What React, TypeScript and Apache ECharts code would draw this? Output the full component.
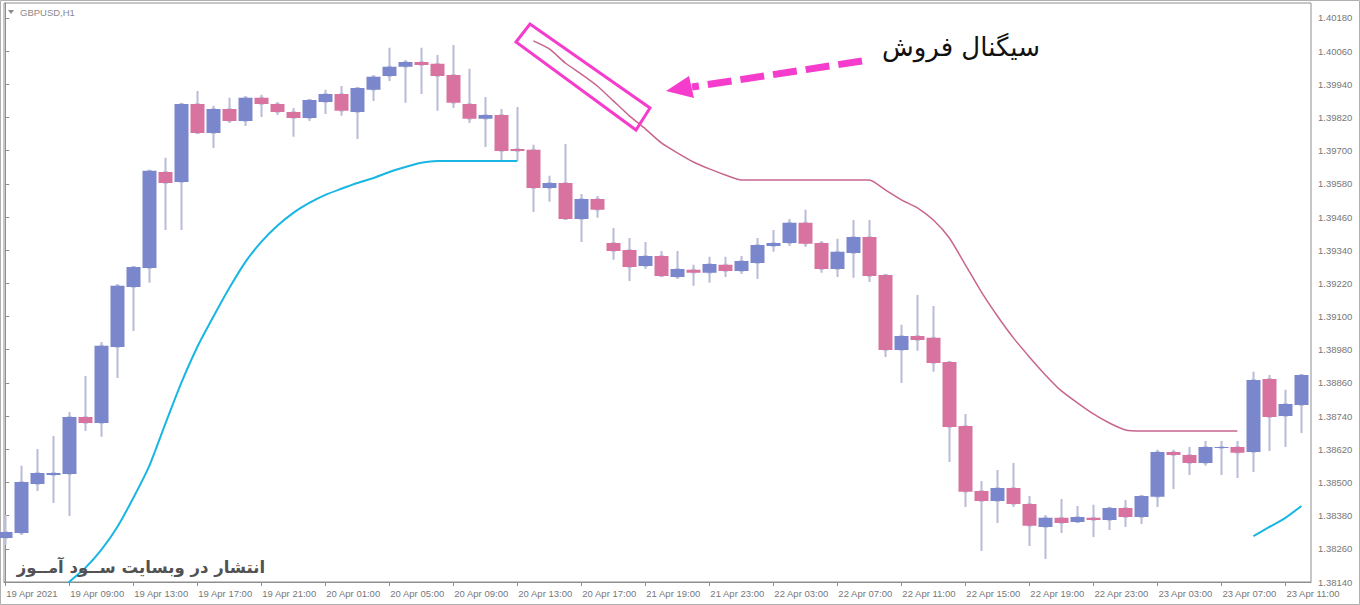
import React, { useEffect, useRef } from "react";
import * as echarts from "echarts";

// ---- data ----
const barTimes = [
  "19 Apr 05:00","19 Apr 06:00","19 Apr 07:00","19 Apr 08:00","19 Apr 09:00","19 Apr 10:00","19 Apr 11:00","19 Apr 12:00",
  "19 Apr 13:00","19 Apr 14:00","19 Apr 15:00","19 Apr 16:00","19 Apr 17:00","19 Apr 18:00","19 Apr 19:00","19 Apr 20:00",
  "19 Apr 21:00","19 Apr 22:00","19 Apr 23:00",
  "20 Apr 00:00","20 Apr 01:00","20 Apr 02:00","20 Apr 03:00","20 Apr 04:00","20 Apr 05:00","20 Apr 06:00","20 Apr 07:00",
  "20 Apr 08:00","20 Apr 09:00","20 Apr 10:00","20 Apr 11:00","20 Apr 12:00","20 Apr 13:00","20 Apr 14:00","20 Apr 15:00",
  "20 Apr 16:00","20 Apr 17:00",
  "21 Apr 16:00","21 Apr 17:00","21 Apr 18:00","21 Apr 19:00","21 Apr 20:00","21 Apr 21:00","21 Apr 22:00","21 Apr 23:00",
  "22 Apr 00:00","22 Apr 01:00","22 Apr 02:00","22 Apr 03:00","22 Apr 04:00","22 Apr 05:00","22 Apr 06:00","22 Apr 07:00",
  "22 Apr 08:00","22 Apr 09:00","22 Apr 10:00","22 Apr 11:00","22 Apr 12:00","22 Apr 13:00","22 Apr 14:00","22 Apr 15:00",
  "22 Apr 16:00","22 Apr 17:00","22 Apr 18:00","22 Apr 19:00","22 Apr 20:00","22 Apr 21:00","22 Apr 22:00","22 Apr 23:00",
  "23 Apr 00:00","23 Apr 01:00","23 Apr 02:00","23 Apr 03:00","23 Apr 04:00","23 Apr 05:00","23 Apr 06:00","23 Apr 07:00",
  "23 Apr 08:00","23 Apr 09:00","23 Apr 10:00","23 Apr 11:00","23 Apr 12:00"
];

const openP = [
  1.38299,1.38317,1.38494,1.38527,1.38531,1.38737,1.38715,1.38990,1.39207,1.39276,
  1.39623,1.39587,1.39869,1.39764,1.39851,1.39807,1.39891,1.39869,1.39840,1.39818,
  1.39876,1.39905,1.39840,1.39920,1.39970,1.40003,1.40021,1.40014,1.39974,1.39869,
  1.39815,1.39829,1.39706,1.39703,1.39565,1.39583,1.39453,1.39525,1.39366,1.39341,
  1.39283,1.39319,1.39243,1.39269,1.39258,1.39287,1.39265,1.39294,1.39355,1.39366,
  1.39439,1.39366,1.39272,1.39330,1.39388,1.39250,1.38979,1.39030,1.39023,1.38936,
  1.38704,1.38469,1.38433,1.38480,1.38422,1.38339,1.38372,1.38357,1.38372,1.38364,
  1.38408,1.38375,1.38448,1.38610,1.38599,1.38570,1.38625,1.38628,1.38610,1.38874,
  1.38740,1.38780
];
const closeP = [
  1.38321,1.38502,1.38534,1.38534,1.38737,1.38715,1.38994,1.39211,1.39279,1.39627,
  1.39583,1.39869,1.39764,1.39851,1.39807,1.39891,1.39869,1.39840,1.39818,1.39883,
  1.39905,1.39844,1.39927,1.39967,1.40003,1.40021,1.40010,1.39970,1.39873,1.39815,
  1.39829,1.39699,1.39699,1.39565,1.39583,1.39453,1.39525,1.39486,1.39337,1.39279,
  1.39319,1.39247,1.39272,1.39258,1.39290,1.39265,1.39301,1.39359,1.39366,1.39439,
  1.39363,1.39272,1.39334,1.39388,1.39247,1.38979,1.39030,1.39015,1.38932,1.38701,
  1.38466,1.38433,1.38480,1.38422,1.38343,1.38372,1.38353,1.38375,1.38364,1.38408,
  1.38375,1.38451,1.38610,1.38599,1.38570,1.38628,1.38628,1.38607,1.38871,1.38737,
  1.38784,1.38889
];
const highP = [
  1.38382,1.38560,1.38621,1.38668,1.38755,1.38885,1.39008,1.39218,1.39283,1.39630,
  1.39674,1.39873,1.39916,1.39862,1.39891,1.39898,1.39902,1.39876,1.39854,1.39887,
  1.39920,1.39934,1.39930,1.39974,1.40072,1.40028,1.40072,1.40046,1.40082,1.39996,
  1.39894,1.39851,1.39858,1.39721,1.39609,1.39724,1.39543,1.39536,1.39420,1.39384,
  1.39370,1.39337,1.39337,1.39287,1.39316,1.39316,1.39319,1.39384,1.39413,1.39453,
  1.39486,1.39373,1.39381,1.39449,1.39449,1.39250,1.39070,1.39178,1.39138,1.38936,
  1.38748,1.38505,1.38545,1.38570,1.38451,1.38382,1.38440,1.38415,1.38419,1.38412,
  1.38437,1.38455,1.38618,1.38618,1.38628,1.38650,1.38650,1.38650,1.38900,1.38889,
  1.38835,1.38889
];
const lowP = [
  1.38274,1.38310,1.38469,1.38426,1.38379,1.38686,1.38665,1.38878,1.39048,1.39222,
  1.39413,1.39413,1.39760,1.39710,1.39800,1.39789,1.39822,1.39829,1.39750,1.39807,
  1.39833,1.39826,1.39742,1.39880,1.39952,1.39873,1.39905,1.39844,1.39854,1.39800,
  1.39713,1.39659,1.39663,1.39478,1.39515,1.39449,1.39370,1.39457,1.39305,1.39229,
  1.39272,1.39243,1.39236,1.39211,1.39222,1.39243,1.39254,1.39236,1.39334,1.39355,
  1.39352,1.39258,1.39243,1.39240,1.39225,1.38954,1.38860,1.38976,1.38900,1.38574,
  1.38411,1.38252,1.38353,1.38411,1.38270,1.38223,1.38317,1.38353,1.38303,1.38328,
  1.38339,1.38350,1.38411,1.38476,1.38527,1.38560,1.38527,1.38516,1.38538,1.38614,
  1.38628,1.38679
];

// indicator lines (start bar index + values)
const lowerBandStart = 3;
const lowerBand = [
  1.38082,1.38140,1.38191,1.38256,1.38339,1.38444,1.38560,1.38712,1.38860,1.38990,
  1.39099,1.39203,1.39297,1.39370,1.39428,1.39475,1.39511,1.39540,1.39562,1.39583,
  1.39601,1.39623,1.39641,1.39656,1.39663,1.39663,1.39663,1.39663,1.39663,1.39663
];
const lowerBand2Start = 78;
const lowerBand2 = [1.38306,1.38339,1.38372,1.38415];
const upperBandStart = 33;
const upperBand = [
  1.40097,1.40068,1.40017,1.39977,1.39934,1.39880,1.39826,1.39779,1.39728,1.39692,
  1.39659,1.39634,1.39612,1.39594,1.39594,1.39594,1.39594,1.39594,1.39594,1.39594,
  1.39594,1.39594,1.39558,1.39522,1.39493,1.39449,1.39384,1.39287,1.39189,1.39102,
  1.39023,1.38954,1.38889,1.38831,1.38788,1.38748,1.38715,1.38690,1.38686,1.38686,
  1.38686,1.38686,1.38686,1.38686,1.38686
];

const xTickIndex = [0,4,8,12,16,20,24,28,32,36,40,44,48,52,56,60,64,68,72,76,80];
const xTickLabels = [
  "19 Apr 2021","19 Apr 09:00","19 Apr 13:00","19 Apr 17:00","19 Apr 21:00","20 Apr 01:00",
  "20 Apr 05:00","20 Apr 09:00","20 Apr 13:00","20 Apr 17:00","21 Apr 19:00","21 Apr 23:00",
  "22 Apr 03:00","22 Apr 07:00","22 Apr 11:00","22 Apr 15:00","22 Apr 19:00","22 Apr 23:00",
  "23 Apr 03:00","23 Apr 07:00","23 Apr 11:00"
];
const yTicks = [
  1.40180,1.40060,1.39940,1.39820,1.39700,1.39580,1.39460,1.39340,1.39220,
  1.39100,1.38980,1.38860,1.38740,1.38620,1.38500,1.38380,1.38260,1.38140
];

const symbolTitle = "GBPUSD,H1";
const signalText = "سیگنال فروش";
const watermarkText = "انتشار در وبسایت ســود آمــوز";

// ---- styles ----
const BULL = "#7a87cc";
const BEAR = "#d873a0";
const WICK = "#b8bcd8";
const CYAN = "#19b6e3";
const UPPER = "#c8658e";
const MAGENTA = "#f53ccd";
const FRAME = "#8e8e8e";
const LABEL = "#777777";

function buildOption() {
  const candleData = openP.map((o, i) => [i, o, closeP[i], lowP[i], highP[i]]);
  const lower1 = lowerBand.map((v, k) => [lowerBandStart + k, v]);
  const lower2 = lowerBand2.map((v, k) => [lowerBand2Start + k, v]);
  const upper = upperBand.map((v, k) => [upperBandStart + k, v]);

  return {
    animation: false,
    backgroundColor: "#ffffff",
    grid: {
      left: 4, top: 3, width: 1307, height: 579,
      show: true, borderColor: FRAME, borderWidth: 1, backgroundColor: "transparent",
    },
    xAxis: {
      type: "value",
      min: -0.08,
      max: 81.6,
      axisLine: { show: true, lineStyle: { color: FRAME, width: 1 } },
      axisTick: { show: true, length: 4, lineStyle: { color: FRAME }, customValues: xTickIndex },
      axisLabel: {
        customValues: xTickIndex,
        formatter: (v: number) => {
          const k = xTickIndex.indexOf(Math.round(v));
          return k >= 0 ? xTickLabels[k] : "";
        },
        color: LABEL, fontSize: 9.5, fontFamily: "Liberation Sans",
        align: "left", margin: 6, padding: [0, 0, 0, 1],
      },
      splitLine: { show: false },
    },
    yAxis: {
      type: "value",
      position: "right",
      min: 1.3814,
      max: 1.40234,
      axisLine: { show: true, lineStyle: { color: FRAME, width: 1 } },
      axisTick: { show: true, length: 4, lineStyle: { color: FRAME }, customValues: yTicks },
      axisLabel: {
        customValues: yTicks,
        formatter: (v: number) => v.toFixed(5),
        color: LABEL, fontSize: 9.5, fontFamily: "Liberation Sans", margin: 7,
      },
      splitLine: { show: false },
    },
    series: [
      {
        type: "candlestick", name: "wick", data: candleData, barWidth: 2, silent: true, z: 2,
        itemStyle: { color: WICK, color0: WICK, borderColor: WICK, borderColor0: WICK, borderWidth: 2 },
      },
      {
        type: "candlestick", name: "body", data: candleData, barWidth: 14, silent: true, z: 3,
        itemStyle: { color: BULL, color0: BEAR, borderColor: BULL, borderColor0: BEAR, borderWidth: 0 },
      },
      {
        type: "line", name: "lower", data: lower1, symbol: "none", smooth: 0.2, silent: true, z: 4,
        lineStyle: { color: CYAN, width: 2 },
      },
      {
        type: "line", name: "lower2", data: lower2, symbol: "none", smooth: 0.2, silent: true, z: 4,
        lineStyle: { color: CYAN, width: 2 },
      },
      {
        type: "line", name: "upper", data: upper, symbol: "none", smooth: 0.2, silent: true, z: 4,
        lineStyle: { color: UPPER, width: 1.5 },
      },
    ],
    graphic: [
      { type: "rect", shape: { x: 0.5, y: 0.5, width: 1359, height: 604 }, style: { fill: "none", stroke: "#b0b0b0", lineWidth: 1 }, silent: true },
      { type: "polygon", shape: { points: [[8, 10], [14, 10], [11, 14]] }, style: { fill: "#8a8a8a" }, silent: true },
      { type: "text", x: 20, y: 12, style: { text: symbolTitle, fill: "#8a8a8a", fontSize: 9.5, fontFamily: "Liberation Sans", verticalAlign: "middle" }, silent: true },
      { type: "polygon", shape: { points: [[516, 42], [530, 24], [650, 108], [636, 130]] }, style: { fill: "none", stroke: MAGENTA, lineWidth: 3 }, silent: true, z: 10 },
      { type: "line", shape: { x1: 862, y1: 61, x2: 692, y2: 87 }, style: { stroke: MAGENTA, lineWidth: 7, lineDash: [24, 9] }, silent: true, z: 10 },
      { type: "polygon", shape: { points: [[666, 91], [689, 76], [694, 98]] }, style: { fill: MAGENTA }, silent: true, z: 10 },
      { type: "text", x: 961, y: 47, style: { text: signalText, fill: "#111111", fontSize: 26, fontFamily: "DejaVu Sans", align: "center", verticalAlign: "middle" }, silent: true, z: 10 },
      { type: "text", x: 141, y: 567, style: { text: watermarkText, fill: "#525252", fontSize: 16.5, fontWeight: "bold", fontFamily: "DejaVu Sans", align: "center", verticalAlign: "middle" }, silent: true, z: 10 },
    ],
  };
}

export default function App() {
  const ref = useRef<HTMLDivElement>(null);
  useEffect(() => {
    if (!ref.current) return;
    const chart = echarts.init(ref.current, null, { renderer: "svg" });
    chart.setOption(buildOption() as any);
    return () => chart.dispose();
  }, []);
  return (
    <div
      ref={ref}
      style={{ position: "fixed", left: 0, top: 0, width: 1360, height: 605, background: "#fff" }}
    />
  );
}
